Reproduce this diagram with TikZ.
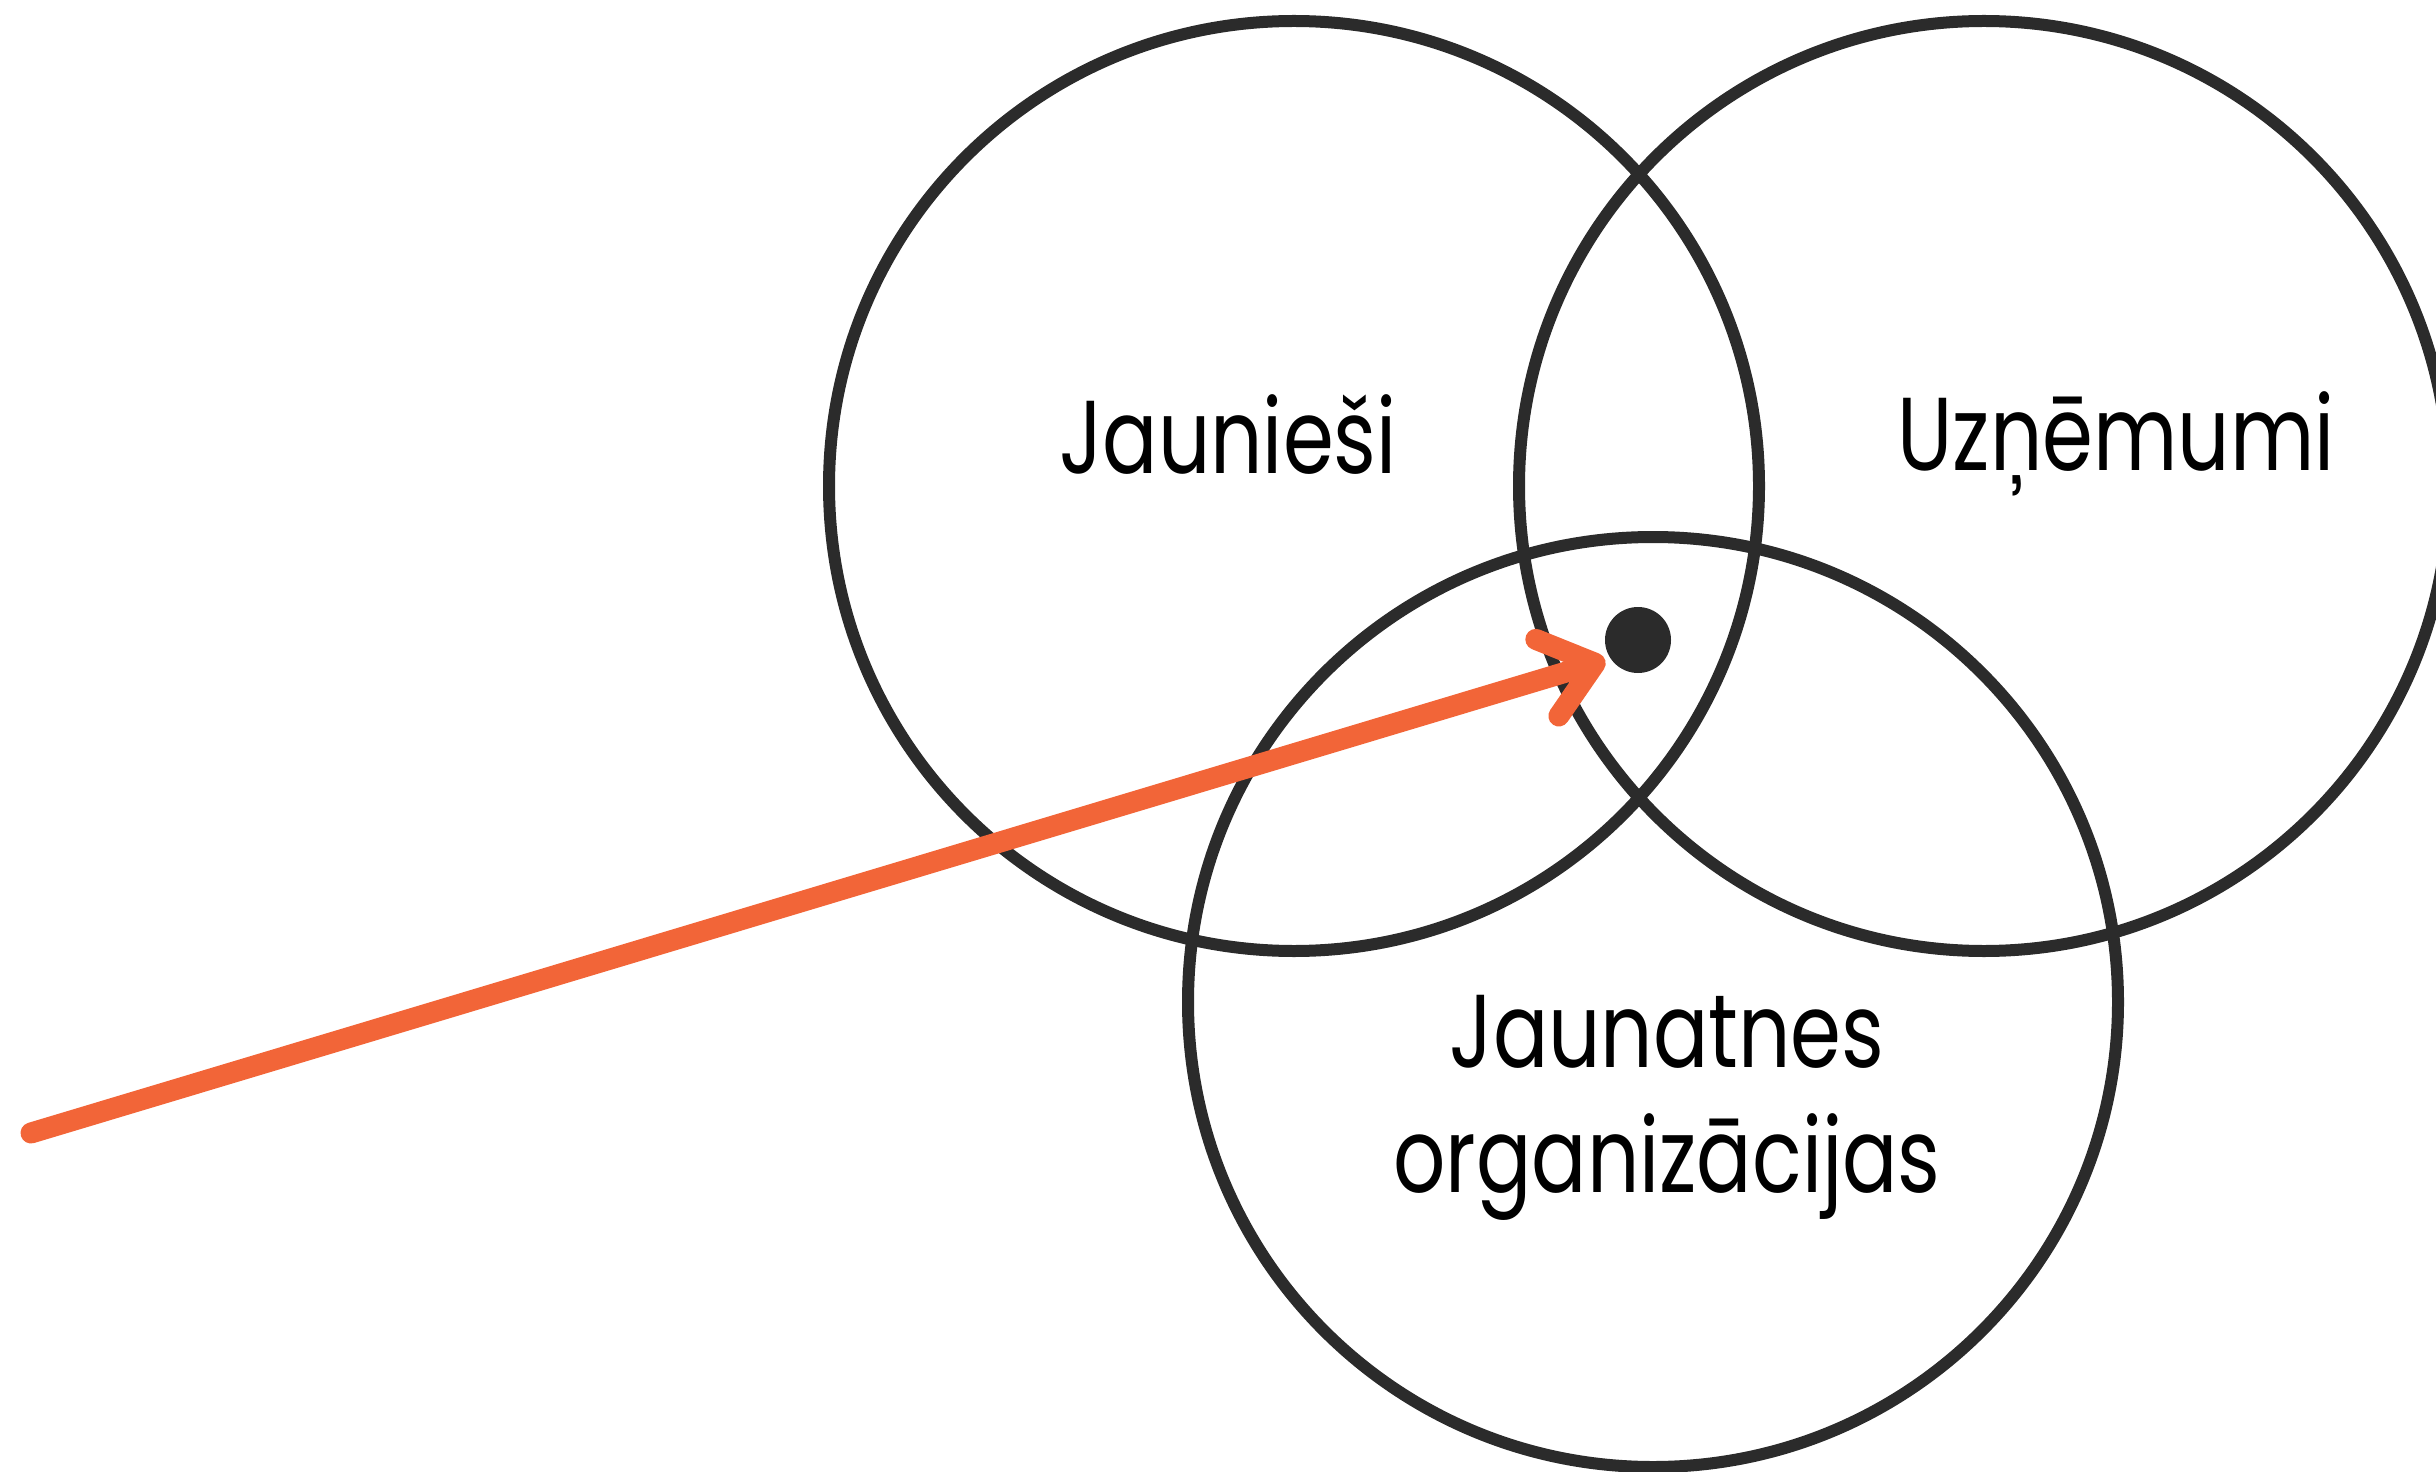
\documentclass[tikz,border=0pt]{standalone}
\usepackage{fontspec}
\setmainfont{Poppins}[FakeStretch=0.79]
\usetikzlibrary{arrows.meta, positioning}
\definecolor{ringgray}{HTML}{2B2B2B}
\definecolor{pointerorange}{HTML}{F26538}

\begin{document}
\begin{tikzpicture}[
  ring/.style={circle, draw=ringgray, line width=0.12cm, minimum size=9.3cm, inner sep=0pt},
  labeltext/.style={font=\fontsize{29.5}{34}\selectfont, text=black, inner sep=0pt, anchor=base},
  pointer/.style={draw=pointerorange, line width=0.21cm, line cap=round,
    -{Straight Barb[round, length=0.5cm, width=0.8cm]}}
]
  \useasboundingbox (0,0) rectangle (24.36,14.71);
  % the three circles
  \node[ring] (youth) at (12.94,9.85) {};
  \node[ring] (firms) at (19.84,9.85) {};
  \node[ring] (orgs) at (16.53,4.69) {};
  % labels
  \node[labeltext] (youth_title) at (12.28,9.97) {Jaunieši};
  \node[labeltext] (firms_title) at (21.16,10.01) {Uzņēmumi};
  \node[labeltext] (orgs_title) at (16.67,4.04) {Jaunatnes};
  \node[labeltext] (orgs_title2) at ([yshift=-1.25cm]orgs_title.base) {organizācijas};
  % centre point and pointer
  \node[circle, fill=ringgray, minimum size=0.66cm, inner sep=0pt] (centre) at (16.38,8.31) {};
  \coordinate (origin) at (0.31,3.38);
  \draw[pointer, shorten >=0.05cm] (origin) -- (centre.214);
\end{tikzpicture}
\end{document}
